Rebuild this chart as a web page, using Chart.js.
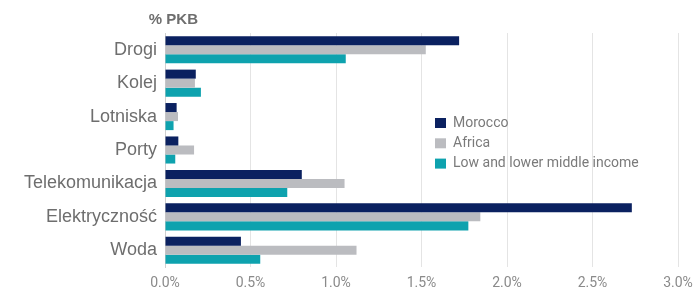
<!DOCTYPE html>
<html>
<head>
<meta charset="utf-8">
<script src="https://cdn.jsdelivr.net/npm/chart.js@4/dist/chart.umd.min.js"></script>
<style>
  html, body { margin: 0; padding: 0; background: #fff; }
  #wrap { width: 693px; height: 288px; position: relative; }
</style>
</head>
<body>
<div id="wrap"><canvas id="myChart"></canvas></div>
<script>
// categories and series (% of GDP)
const categories = ['Drogi', 'Kolej', 'Lotniska', 'Porty', 'Telekomunikacja', 'Elektryczność', 'Woda'];
const morocco = [1.72, 0.18, 0.068, 0.078, 0.80, 2.73, 0.444];
const africa = [1.525, 0.175, 0.076, 0.17, 1.05, 1.844, 1.12];
const lowIncome = [1.057, 0.21, 0.05, 0.06, 0.715, 1.774, 0.557];
const seriesNames = ['Morocco', 'Africa', 'Low and lower middle income'];
const xTicks = [0, 0.5, 1.0, 1.5, 2.0, 2.5, 3.0];
const unitLabel = '% PKB';

const colors = ['#0b2160', '#bbbcc0', '#0ea2ae'];

// legend sits inside the plot area, so draw it by hand
const innerLegend = {
    id: 'innerLegend',
    afterDraw(chart) {
        const ctx = chart.ctx;
        const x = 435, y0 = 123, step = 20.3;
        ctx.save();
        ctx.font = '14px Roboto';
        ctx.textBaseline = 'middle';
        chart.data.datasets.forEach((ds, i) => {
            const y = y0 + i * step;
            ctx.fillStyle = ds.backgroundColor;
            ctx.fillRect(x, y - 5, 11, 10);
            ctx.fillStyle = '#7a7a7a';
            ctx.fillText(ds.label, x + 18, y);
        });
        // unit label above the axis
        ctx.font = 'bold 15px "Liberation Sans"';
        ctx.fillStyle = '#6e6e6e';
        ctx.textAlign = 'right';
        ctx.fillText(unitLabel, 198, 20);
        ctx.restore();
    }
};

const canvas = document.getElementById('myChart');
const myChart = new Chart(canvas, {
    type: 'bar',
    data: {
        labels: categories,
        datasets: [
            { label: seriesNames[0], data: morocco, backgroundColor: colors[0] },
            { label: seriesNames[1], data: africa, backgroundColor: colors[1] },
            { label: seriesNames[2], data: lowIncome, backgroundColor: colors[2] }
        ]
    },
    options: {
        indexAxis: 'y',
        responsive: true,
        maintainAspectRatio: false,
        animation: false,
        datasets: {
            bar: { categoryPercentage: 0.81, barPercentage: 1.0 }
        },
        layout: { padding: { top: 33, right: 0, bottom: 0, left: 0 } },
        plugins: {
            legend: { display: false },
            tooltip: { enabled: false }
        },
        scales: {
            x: {
                min: 0,
                max: 3,
                afterBuildTicks: (scale) => { scale.ticks = xTicks.map(v => ({ value: v })); },
                afterFit: (scale) => {
                    scale.height = 21;
                    scale.paddingLeft = 0;
                    scale.paddingRight = 15;
                },
                grid: { color: '#e4e4e4', drawTicks: false },
                border: { display: false },
                ticks: {
                    padding: 8,
                    color: '#8a8a8a',
                    font: { family: 'Roboto', size: 14 },
                    callback: (v) => v.toFixed(1) + '%'
                }
            },
            y: {
                afterFit: (scale) => { scale.width = 165; },
                grid: { display: false, drawTicks: false },
                border: { display: true, color: '#cfcfcf' },
                ticks: {
                    padding: 8,
                    color: '#6e6e6e',
                    font: { family: '"Liberation Sans"', size: 18 }
                }
            }
        }
    },
    plugins: [innerLegend]
});
</script>
</body>
</html>
